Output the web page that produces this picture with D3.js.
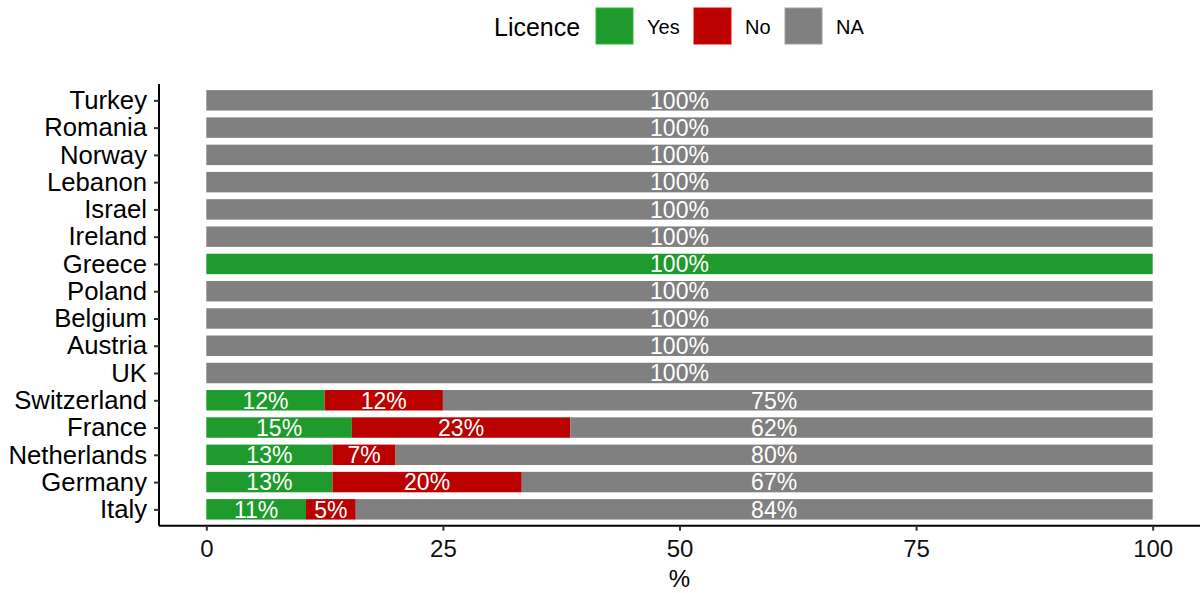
<!DOCTYPE html>
<html>
<head>
<meta charset="utf-8">
<script src="https://cdn.jsdelivr.net/npm/d3@7"></script>
<style>
  body { margin: 0; background: #fff; }
  text { font-family: "Liberation Sans", Arial, Helvetica, sans-serif; }
</style>
</head>
<body>
<svg id="chart" width="1201" height="593"></svg>
<script>
// countries, top to bottom
var countries = ['Turkey', 'Romania', 'Norway', 'Lebanon', 'Israel', 'Ireland', 'Greece', 'Poland',
    'Belgium', 'Austria', 'UK', 'Switzerland', 'France', 'Netherlands', 'Germany', 'Italy']
// percentages per answer
var yesValues = [0, 0, 0, 0, 0, 0, 100, 0, 0, 0, 0, 12.5, 15.38, 13.33, 13.33, 10.53]
var noValues = [0, 0, 0, 0, 0, 0, 0, 0, 0, 0, 0, 12.5, 23.08, 6.67, 20, 5.26]
var naValues = [100, 100, 100, 100, 100, 100, 0, 100, 100, 100, 100, 75, 61.54, 80, 66.67, 84.21]
var seriesNames = ['Yes', 'No', 'NA']
var seriesColors = ['#1f9a2c', '#bb0000', '#808080']
var xTicks = [0, 25, 50, 75, 100]
// in the original the NA label of a split bar sits at 60 %, not mid-segment
var naLabelAt = 60

var svg = d3.select('#chart')
var fontFamily = '"Liberation Sans", Arial, Helvetica, sans-serif'

var panelLeft = 159, panelRight = 1200, panelTop = 84, panelBottom = 525.7
var x = d3.scaleLinear().domain([-5, 105]).range([panelLeft, panelRight])
var y = d3.scalePoint().domain(countries).range([panelTop, panelBottom]).padding(0.6)
var barH = y.step() * 0.75

// round half to even, like R's round()
function roundEven(v) {
    var r = Math.round(v)
    if (Math.abs(v % 1) === 0.5 && r % 2 !== 0) r -= 1
    return r
}

var rows = countries.map(function (c, i) {
    return {country: c, Yes: yesValues[i], No: noValues[i], NA: naValues[i]}
})
var stacked = d3.stack().keys(seriesNames)(rows)

var layers = svg.append('g').selectAll('g').data(stacked).enter().append('g')
    .attr('fill', function (d, i) { return seriesColors[i] })
layers.selectAll('rect').data(function (d) { return d }).enter().append('rect')
    .attr('x', function (d) { return x(d[0]) })
    .attr('width', function (d) { return Math.max(0, x(d[1]) - x(d[0])) })
    .attr('y', function (d) { return y(d.data.country) - barH / 2 })
    .attr('height', barH)

// value labels
stacked.forEach(function (layer) {
    svg.append('g').selectAll('text')
        .data(layer.filter(function (d) { return d[1] - d[0] > 0 }))
        .enter().append('text')
        .attr('x', function (d) {
            if (layer.key == 'NA' && d[1] - d[0] < 100) return x(naLabelAt)
            return (x(d[0]) + x(d[1])) / 2
        })
        .attr('y', function (d) { return y(d.data.country) })
        .attr('dy', '0.36em')
        .attr('text-anchor', 'middle')
        .attr('fill', 'white')
        .style('font-size', '23px')
        .text(function (d) { return roundEven(d[1] - d[0]) + '%' })
})

// axes
var yAxis = svg.append('g').attr('transform', 'translate(' + panelLeft + ',0)')
    .call(d3.axisLeft(y).tickSize(5).tickPadding(7))
var xAxis = svg.append('g').attr('transform', 'translate(0,' + panelBottom + ')')
    .call(d3.axisBottom(x).tickValues(xTicks).tickSize(5).tickPadding(9))
;[xAxis, yAxis].forEach(function (ax) {
    ax.select('.domain').attr('stroke', '#000').attr('stroke-width', 2)
    ax.selectAll('.tick line').attr('stroke', '#333').attr('stroke-width', 2)
    ax.selectAll('.tick text').attr('fill', '#000').style('font-size', '25.7px').style('font-family', fontFamily)
})
yAxis.select('.domain').attr('d', 'M0,' + panelTop + 'V' + panelBottom)
xAxis.select('.domain').attr('d', 'M' + panelLeft + ',0H' + panelRight)
xAxis.selectAll('.tick text').style('font-size', '24px').style('fill', '#111')

svg.append('text').attr('x', x(50)).attr('y', 587)
    .attr('text-anchor', 'middle').style('font-size', '24px').text('%')

// legend
var legend = svg.append('g')
legend.append('text').attr('x', 494).attr('y', 36).style('font-size', '25px').text('Licence')
var keyX = [596, 694, 785]
seriesNames.forEach(function (s, i) {
    legend.append('rect').attr('x', keyX[i]).attr('y', 8).attr('width', 37).attr('height', 36)
        .attr('fill', seriesColors[i]).attr('stroke', d3.color(seriesColors[i]).brighter(0.6)).attr('stroke-width', 1)
    legend.append('text').attr('x', keyX[i] + 51).attr('y', 34).style('font-size', '20px').text(s)
})
</script>
</body>
</html>
